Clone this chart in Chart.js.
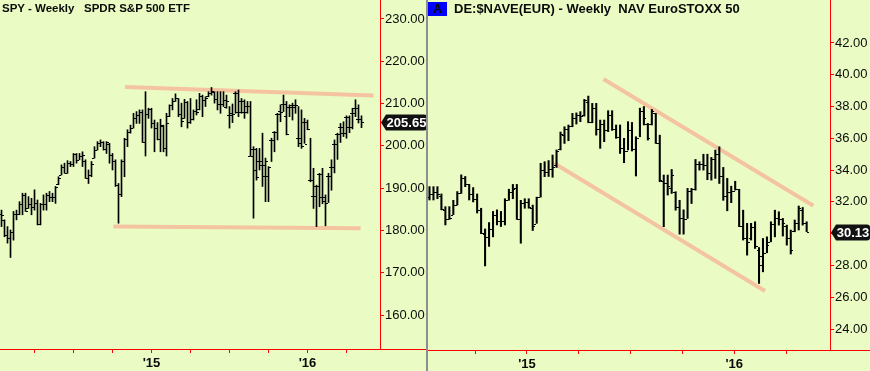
<!DOCTYPE html>
<html>
<head>
<meta charset="utf-8">
<script src="https://cdn.jsdelivr.net/npm/chart.js@4.4.1/dist/chart.umd.min.js"></script>
<style>
  html, body { margin: 0; padding: 0; background: #eafcc4; }
  #wrap { position: relative; width: 870px; height: 371px; overflow: hidden; background: #eafcc4;
          font-family: "Liberation Sans", Arial, sans-serif; }
  #spy { position: absolute; left: 0; top: 0; }
  #nave { position: absolute; left: 428px; top: 0; }
  .divider { position: absolute; left: 426px; top: 0; width: 2px; height: 371px; background: #8e8e8e; }
  .title { position: absolute; top: 2px; font-weight: bold; color: #0a0a0a; white-space: pre; }
  .badge { position: absolute; left: 428px; top: 2px; width: 19px; height: 14px; background: #0000ff;
           color: #000; font-size: 12px; font-weight: bold; line-height: 14px; text-align: center; }
</style>
</head>
<body>
<div id="wrap">
  <canvas id="spy" width="427" height="371"></canvas>
  <canvas id="nave" width="442" height="371"></canvas>
  <div class="divider"></div>
  <div class="title" style="left:2px;font-size:11.5px">SPY - Weekly   SPDR S&amp;P 500 ETF</div>
  <div class="badge">A</div>
  <div class="title" style="left:454px;top:1px;font-size:13px">DE:$NAVE(EUR) - Weekly  NAV EuroSTOXX 50</div>
</div>
<script>
// ---- SPY weekly, Jan 2014 .. May 2016 (one entry per week) ----
const spyOpen = [184.0,182.4,179.0,178.2,179.7,184.0,183.9,186.3,188.3,185.4,186.2,185.6,186.4,181.5,186.2,186.3,188.3,187.9,187.8,190.9,
  193.2,194.9,193.6,195.9,195.8,198.0,196.7,197.7,196.5,192.5,193.2,197.2,199.1,200.7,201.0,199.2,200.5,197.9,196.5,190.8,
  188.5,196.4,201.7,203.2,204.3,206.7,207.2,208.0,201.0,207.5,208.7,205.4,204.3,201.6,204.8,199.5,207.0,209.6,210.7,211.2,
  207.5,206.6,210.4,205.7,206.4,208.2,208.6,211.7,210.8,211.7,212.4,212.7,211.1,209.8,209.8,209.2,207.3,207.8,212.5,208.0,
  210.5,208.0,209.4,197.6,199.3,194.4,196.5,195.5,192.9,196.4,201.3,203.3,207.5,208.2,210.0,207.0,209.3,209.6,209.2,201.9,
  200.7,205.7,200.5,191.9,188.1,190.5,193.4,188.0,187.0,192.9,195.1,200.4,202.8,204.4,203.1,206.9,204.5,207.8,209.0,206.3,206.3];
const spyHigh = [184.8,182.5,180.9,180.1,184.5,184.8,186.8,188.8,188.8,188.0,187.6,189.6,187.2,186.4,188.4,188.8,189.2,188.8,190.4,192.7,
  195.5,195.9,196.5,196.3,198.2,198.2,198.2,198.6,196.7,194.3,196.3,199.8,201.0,201.4,201.0,201.0,200.6,198.2,196.7,191.1,
  196.7,201.8,203.8,204.9,207.7,208.1,208.5,208.5,212.8,208.9,208.9,206.1,205.5,206.3,204.9,207.7,209.7,211.2,212.3,211.2,
  210.1,211.0,210.5,211.2,208.5,210.9,212.4,212.0,211.6,212.8,213.8,212.8,212.8,212.8,212.8,212.0,209.3,209.9,212.8,213.2,
  211.2,210.9,210.5,210.5,199.8,199.4,199.4,203.0,197.1,195.1,201.8,203.4,207.7,209.7,212.0,210.5,209.7,210.1,210.9,209.3,
  208.5,206.5,206.1,201.8,194.7,190.7,193.5,194.7,188.4,193.5,196.7,201.4,203.0,205.3,205.7,207.1,207.1,208.9,210.9,209.7,207.1];
const spyLow = [180.9,178.5,177.0,173.6,177.7,182.5,183.7,183.7,184.5,185.2,183.7,184.8,181.3,181.3,184.8,184.8,186.8,186.8,186.4,190.8,
  193.1,193.5,193.5,195.1,195.1,195.9,196.7,195.1,192.3,191.1,192.7,197.1,199.0,199.8,199.0,198.2,195.9,194.3,190.4,181.7,
  188.0,192.7,199.8,203.0,204.2,205.3,205.3,200.8,197.6,206.5,204.2,198.6,201.4,198.6,198.6,197.6,206.9,208.5,210.5,206.9,
  204.5,206.5,204.2,205.3,206.1,207.3,208.5,206.9,209.3,211.6,212.0,210.1,208.5,207.7,209.3,208.9,204.2,205.5,207.7,206.9,
  207.7,206.5,207.7,197.5,182.9,191.9,194.3,190.4,186.8,186.8,196.3,198.6,201.4,205.7,208.1,202.6,206.9,206.1,207.7,199.8,
  199.4,200.6,203.8,191.5,185.2,180.9,185.6,186.3,181.1,186.6,189.5,193.6,196.8,200.8,202.2,201.8,203.1,204.0,206.9,205.4,204.3];
const spyClose = [183.6,179.0,178.2,179.7,184.0,183.9,186.3,188.3,184.7,186.2,185.6,186.4,181.5,186.2,186.3,188.3,187.9,187.8,190.2,192.4,
  194.9,193.6,195.9,195.8,198.0,196.7,197.7,197.9,192.5,193.2,195.8,199.0,200.7,201.0,199.2,200.8,197.9,196.5,190.8,188.5,
  196.4,201.7,203.2,204.2,206.7,207.2,208.0,201.0,207.5,208.7,205.4,204.3,201.6,205.0,199.5,205.5,209.6,210.7,211.2,207.5,
  205.8,210.4,205.7,206.4,208.2,207.9,211.7,210.8,211.3,212.4,213.0,211.1,209.8,209.8,210.8,210.5,207.3,207.5,212.5,208.0,
  210.5,208.0,209.4,197.6,199.3,192.6,196.5,195.5,192.9,195.0,201.3,203.3,207.5,207.9,210.0,202.9,209.3,209.6,209.6,201.9,
  200.0,205.7,203.9,191.9,188.1,190.5,193.4,188.0,186.6,192.9,195.1,200.4,202.8,204.4,203.1,206.9,204.5,207.8,209.0,206.3,205.65];
const spyTicks = [11, 24, 37, 50, 63, 76, 89, 102, 115];
const spyTickLabels = ["", "", "", "'15", "", "", "", "'16", ""];
const spyYTicks = [160, 170, 180, 190, 200, 210, 220, 230];
const spyTop = [[41.2, 213.9], [124, 211.9]];
const spyBottom = [[37.3, 180.9], [119.7, 180.5]];

// ---- DE:$NAVE(EUR) weekly, Jul 2014 .. May 2016 ----
const naveOpen = [32.3,32.5,32.6,32.4,31.5,30.9,31.2,31.8,32.55,33.5,33.1,32.5,32.2,31.5,30.0,29.8,30.3,31.2,30.8,30.8,
  32.1,32.6,32.9,30.9,31.9,32.0,31.6,30.6,32.3,34.0,33.9,34.1,34.3,35.3,36.2,36.6,36.8,37.3,37.5,37.5,
  38.3,37.0,37.9,36.6,36.9,36.5,37.5,36.6,36.1,35.4,35.2,36.5,35.3,36.0,37.7,36.9,36.9,37.6,35.7,33.3,
  33.2,32.9,32.6,31.7,31.0,30.9,32.7,32.8,34.4,34.4,34.3,33.8,34.7,35.0,33.6,32.4,32.6,32.7,32.8,30.5,
  29.7,29.7,30.4,29.0,28.0,28.8,29.5,30.6,31.0,30.9,30.5,29.7,30.2,30.7,31.5,30.7];
const naveHigh = [32.96,32.96,32.96,32.5,31.7,31.7,32.1,32.65,33.7,33.6,33.1,32.9,32.5,31.6,30.3,30.7,31.4,31.5,31.4,32.2,
  32.8,33.1,33.1,32.1,32.2,32.2,31.8,32.3,34.43,34.53,34.6,34.95,35.27,36.4,36.73,36.84,37.57,37.6,37.68,38.45,
  38.66,38.2,38.2,37.15,37.15,37.74,37.74,36.84,36.84,36.0,37.05,37.0,36.1,37.9,38.0,36.94,37.82,37.57,36.2,33.69,
  33.69,34.04,32.64,32.1,31.5,32.85,32.85,34.67,34.53,35.0,35.0,34.8,35.26,35.47,34.17,33.48,32.99,33.3,32.79,31.48,
  30.65,30.65,30.75,29.13,29.7,29.8,30.75,31.48,31.38,30.96,30.54,30.23,30.86,31.74,31.65,30.75];
const naveLow = [32.12,32.12,32.2,31.5,30.55,30.9,31.2,31.8,32.54,32.96,32.12,32.0,31.3,30.0,27.97,29.2,29.8,30.55,30.45,30.55,
  32.1,32.2,30.9,29.4,31.6,31.6,30.2,30.65,32.3,33.59,33.6,33.55,34.17,35.27,35.68,35.85,36.73,36.9,37.05,37.4,
  36.98,36.98,36.2,35.37,35.79,36.42,36.5,36.0,35.05,34.47,35.27,35.2,33.63,36.1,36.84,35.89,36.84,35.68,33.27,30.44,
  32.43,32.53,31.48,29.97,29.97,30.96,31.9,32.74,34.0,34.0,33.4,33.37,33.48,33.16,32.1,31.44,31.95,32.74,30.44,29.6,
  28.65,29.6,29.07,26.87,27.6,28.8,29.49,29.8,30.54,29.85,29.28,28.72,30.12,30.23,30.54,30.13];
const naveClose = [32.5,32.6,32.5,31.55,30.9,31.0,31.8,32.55,33.5,33.1,32.5,32.2,31.5,30.05,29.8,30.3,31.2,30.8,30.8,32.1,
  32.6,32.8,30.9,31.9,32.0,31.7,30.5,32.3,34.0,33.9,34.1,34.2,35.2,36.3,36.6,36.8,37.3,37.5,37.4,38.4,
  37.0,37.9,36.6,36.9,36.5,37.5,36.6,36.1,35.4,35.2,36.5,35.3,36.0,37.7,37.3,36.0,37.7,35.7,33.4,33.2,
  33.0,33.7,31.7,31.0,30.9,32.7,32.8,34.4,34.4,34.3,33.8,34.7,35.0,33.6,32.4,32.6,32.7,32.8,30.5,29.7,
  29.5,30.4,29.2,28.6,28.8,29.3,30.6,31.0,30.9,30.7,29.7,29.0,30.7,31.6,30.7,30.13];
const naveTicks = [11.5, 24.55, 37.6, 50.65, 63.7, 76.75, 89.8];
const naveTickLabels = ["", "'15", "", "", "", "'16", ""];
const naveYTicks = [24, 26, 28, 30, 32, 34, 36, 38, 40, 42];
const naveTop = [[43.8, 39.73], [96.7, 31.76]];
const naveBottom = [[31.4, 34.43], [84.5, 26.39]];

const RED = "#ff0000";
const TEXT = "#0a0a0a";
const TREND = "#f4c4a0";

const ohlcTicks = {
  id: "ohlcTicks",
  afterDatasetsDraw(chart, args, opts) {
    const { ctx, scales: { x, y } } = chart;
    ctx.save();
    ctx.fillStyle = "#000";
    opts.open.forEach((o, i) => {
      const left = Math.round(x.getPixelForValue(i) - 0.5);
      ctx.fillRect(left - 2, Math.round(y.getPixelForValue(o)), 2, 1);
      ctx.fillRect(left + 1, Math.round(y.getPixelForValue(opts.close[i])), 2, 1);
    });
    ctx.restore();
  },
};

const frame = {
  id: "frame",
  afterDraw(chart) {
    const { ctx, chartArea } = chart;
    ctx.save();
    ctx.fillStyle = RED;
    ctx.fillRect(0, chartArea.bottom, chart.width, 1);
    ctx.restore();
  },
};

const lastValue = {
  id: "lastValue",
  afterDraw(chart, args, opts) {
    const { ctx, chartArea, scales: { y } } = chart;
    const cy = Math.round(y.getPixelForValue(opts.value)) + 0.5;
    const x0 = chartArea.right + 1;
    const x1 = chart.width - opts.gap;
    const h = 16, r = 3;
    ctx.save();
    ctx.fillStyle = "#111";
    ctx.beginPath();
    ctx.moveTo(x0, cy);
    ctx.lineTo(x0 + 5, cy - h / 2);
    ctx.lineTo(x1 - r, cy - h / 2);
    ctx.quadraticCurveTo(x1, cy - h / 2, x1, cy - h / 2 + r);
    ctx.lineTo(x1, cy + h / 2 - r);
    ctx.quadraticCurveTo(x1, cy + h / 2, x1 - r, cy + h / 2);
    ctx.lineTo(x0 + 5, cy + h / 2);
    ctx.closePath();
    ctx.fill();
    ctx.fillStyle = "#fff";
    ctx.font = 'bold 13px "Liberation Sans", Arial, sans-serif';
    ctx.textAlign = "center";
    ctx.textBaseline = "middle";
    ctx.fillText(opts.value.toFixed(2), (x0 + 5 + x1) / 2, cy + 1);
    ctx.restore();
  },
};

function ohlcChart(canvasId, s) {
  const bars = s.high.map((h, i) => ({ x: i, y: [s.low[i], h] }));
  const trend = (pts) => ({
    type: "line",
    data: pts.map(([x, y]) => ({ x, y })),
    borderColor: TREND,
    borderWidth: 4,
    borderCapStyle: "butt",
    pointRadius: 0,
    order: 2,
  });
  return new Chart(document.getElementById(canvasId), {
    type: "bar",
    data: {
      datasets: [
        trend(s.top),
        trend(s.bottom),
        { type: "bar", data: bars, backgroundColor: "#000", barThickness: s.barWidth, order: 1 },
      ],
    },
    options: {
      responsive: false,
      animation: false,
      events: [],
      layout: { padding: 0 },
      plugins: {
        legend: { display: false },
        tooltip: { enabled: false },
        ohlcTicks: { open: s.open, close: s.close },
        lastValue: { value: s.close[s.close.length - 1], gap: s.labelGap },
      },
      scales: {
        x: {
          type: "linear",
          min: s.xMin,
          max: s.xMax,
          offset: false,
          afterBuildTicks: (sc) => { sc.ticks = s.ticks.map((v) => ({ value: v })); },
          afterFit: (sc) => {
            sc.height = s.xAxisHeight;
            sc.paddingLeft = 0;
            sc.paddingRight = 0;
          },
          ticks: {
            autoSkip: false,
            maxRotation: 0,
            padding: 3,
            color: TEXT,
            font: { family: '"Liberation Sans", Arial, sans-serif', size: 13, weight: "bold" },
            callback: (v, i) => s.tickLabels[i],
          },
          grid: { drawOnChartArea: false, offset: false, tickLength: 4, color: RED },
          border: { color: RED, width: 1 },
        },
        y: {
          position: "right",
          min: s.yMin,
          max: s.yMax,
          afterBuildTicks: (sc) => { sc.ticks = s.yTicks.map((v) => ({ value: v })); },
          afterFit: (sc) => {
            sc.width = s.yAxisWidth;
            sc.paddingTop = 0;
            sc.paddingBottom = 0;
          },
          ticks: {
            padding: 1,
            color: TEXT,
            font: { family: '"Liberation Sans", Arial, sans-serif', size: 13 },
            callback: (v) => Number(v).toFixed(2),
          },
          grid: { drawOnChartArea: false, tickLength: 4, color: RED },
          border: { color: RED, width: 1 },
        },
      },
    },
    plugins: [ohlcTicks, frame, lastValue],
  });
}

ohlcChart("spy", {
  open: spyOpen, high: spyHigh, low: spyLow, close: spyClose,
  ticks: spyTicks, tickLabels: spyTickLabels, yTicks: spyYTicks,
  top: spyTop, bottom: spyBottom,
  xMin: -0.5, xMax: 126.1667, yMin: 151.96, yMax: 234.49,
  xAxisHeight: 22, yAxisWidth: 47, labelGap: 0, barWidth: 1,
});

ohlcChart("nave", {
  open: naveOpen, high: naveHigh, low: naveLow, close: naveClose,
  ticks: naveTicks, tickLabels: naveTickLabels, yTicks: naveYTicks,
  top: naveTop, bottom: naveBottom,
  xMin: -0.378, xMax: 100.88, yMin: 22.68, yMax: 44.706,
  xAxisHeight: 21, yAxisWidth: 40, labelGap: 0, barWidth: 1.4,
});
</script>
</body>
</html>
